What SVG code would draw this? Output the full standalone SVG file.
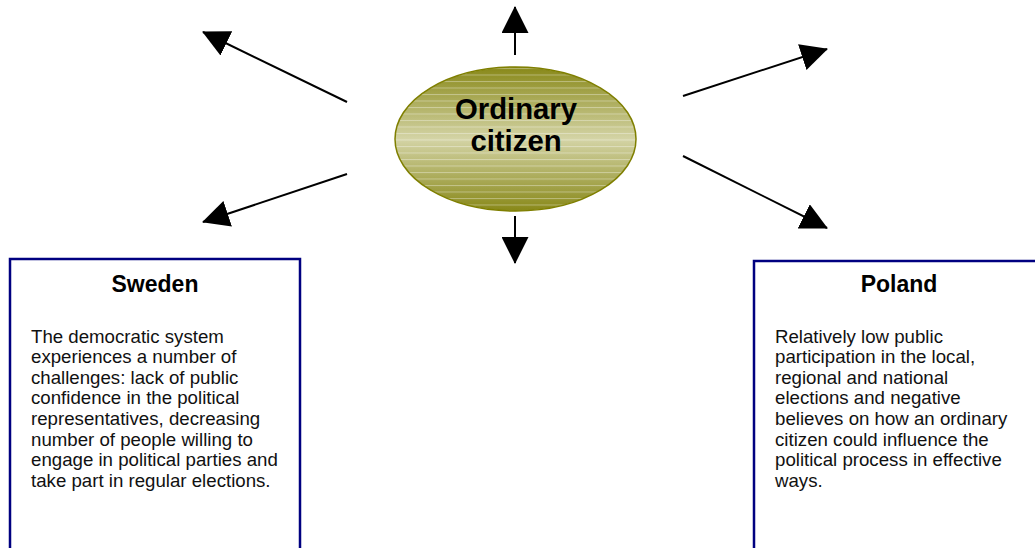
<svg xmlns="http://www.w3.org/2000/svg" width="1035" height="548" viewBox="0 0 1035 548">
  <style>
    .conn { stroke: #000; stroke-width: 2; fill: none; marker-end: url(#ah); }
    .box { fill: #fff; stroke: #000080; stroke-width: 2.5; }
    .title { font-family: "Liberation Sans", Arial, sans-serif; font-weight: bold; font-size: 23px; fill: #000; text-anchor: middle; }
    .body { font-family: "Liberation Sans", Arial, sans-serif; font-size: 18.67px; fill: #111; }
    .center { font-family: "Liberation Sans", Arial, sans-serif; font-weight: bold; font-size: 29.3px; fill: #000; text-anchor: middle; }
  </style>
  <defs>
    <marker id="ah" markerUnits="userSpaceOnUse" markerWidth="27" markerHeight="27" refX="26" refY="13.5" orient="auto">
      <path d="M0,0 L27,13.5 L0,27 Z" fill="#000"/>
    </marker>
    <linearGradient id="olive" x1="0" y1="0" x2="0" y2="1">
      <stop offset="0" stop-color="#888818"/>
      <stop offset="0.5" stop-color="#D4D4A6"/>
      <stop offset="1" stop-color="#888818"/>
    </linearGradient>
    <pattern id="stripes" patternUnits="userSpaceOnUse" x="0" y="68" width="10" height="6.5">
      <rect x="0" y="0" width="10" height="1" fill="#ffffff" fill-opacity="0.35"/>
    </pattern>
  </defs>
  <rect width="1035" height="548" fill="#fff"/>

  <g id="connectors">
    <line class="conn" x1="515" y1="55" x2="515" y2="7"/>
    <line class="conn" x1="515" y1="216" x2="515" y2="263"/>
    <line class="conn" x1="347" y1="102" x2="203" y2="32"/>
    <line class="conn" x1="347" y1="174" x2="203" y2="222"/>
    <line class="conn" x1="683" y1="96" x2="827" y2="49"/>
    <line class="conn" x1="683" y1="156" x2="827" y2="228"/>
  </g>

  <g id="ordinary-citizen">
    <ellipse cx="515.5" cy="139" rx="120.5" ry="72" fill="url(#olive)"/>
    <ellipse cx="515.5" cy="139" rx="120.5" ry="72" fill="url(#stripes)" stroke="#7F7F00" stroke-width="1.5"/>
    <text class="center" x="516" y="118.5">Ordinary</text>
    <text class="center" x="516" y="150.5">citizen</text>
  </g>

  <g id="sweden">
    <rect class="box" x="10" y="259" width="290" height="320"/>
    <text class="title" x="155" y="292">Sweden</text>
    <text class="body">
      <tspan x="31" y="342.5">The democratic system</tspan>
      <tspan x="31" y="363.1">experiences a number of</tspan>
      <tspan x="31" y="383.7">challenges: lack of public</tspan>
      <tspan x="31" y="404.3">confidence in the political</tspan>
      <tspan x="31" y="424.9">representatives, decreasing</tspan>
      <tspan x="31" y="445.5">number of people willing to</tspan>
      <tspan x="31" y="466.1">engage in political parties and</tspan>
      <tspan x="31" y="486.7">take part in regular elections.</tspan>
    </text>
  </g>

  <g id="poland">
    <rect class="box" x="754" y="261" width="320" height="320"/>
    <text class="title" x="899" y="292">Poland</text>
    <text class="body">
      <tspan x="775" y="342.5">Relatively low public</tspan>
      <tspan x="775" y="363.1">participation in the local,</tspan>
      <tspan x="775" y="383.7">regional and national</tspan>
      <tspan x="775" y="404.3">elections and negative</tspan>
      <tspan x="775" y="424.9">believes on how an ordinary</tspan>
      <tspan x="775" y="445.5">citizen could influence the</tspan>
      <tspan x="775" y="466.1">political process in effective</tspan>
      <tspan x="775" y="486.7">ways.</tspan>
    </text>
  </g>
</svg>
